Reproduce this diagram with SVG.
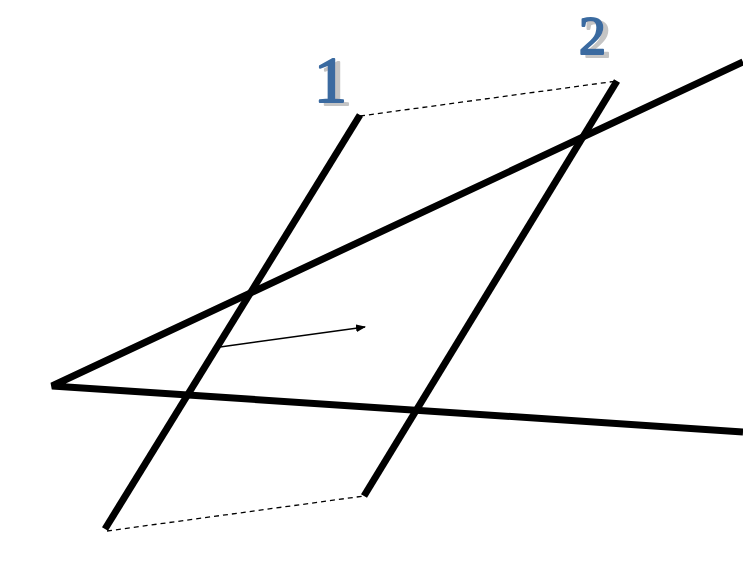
<svg xmlns="http://www.w3.org/2000/svg" width="743" height="564" viewBox="0 0 743 564">
<defs>
<style>
.thick{stroke:#000;stroke-width:7;fill:none;stroke-linecap:butt}
.dash{stroke:#000;stroke-width:1.3;fill:none;stroke-dasharray:5,4}
.lbl{font-family:"Liberation Serif","Times New Roman",serif;fill:#3a6ba0;stroke:#3a6ba0;stroke-width:2;stroke-linejoin:round;filter:url(#shadow)}
</style>
<filter id="shadow" x="-30%" y="-30%" width="160%" height="160%">
<feOffset in="SourceAlpha" dx="5" dy="3" result="off"/>
<feFlood flood-color="#c4c4c4"/>
<feComposite in2="off" operator="in" result="sh"/>
<feMerge><feMergeNode in="sh"/><feMergeNode in="SourceGraphic"/></feMerge>
</filter>
<marker id="ah" markerWidth="10" markerHeight="8" refX="9" refY="4" orient="auto" markerUnits="userSpaceOnUse">
<path d="M0,0 L10,4 L0,8 Z" fill="#000"/>
</marker>
</defs>
<rect width="743" height="564" fill="#fff"/>
<g id="connectors">
<line class="dash" x1="360" y1="116" x2="617" y2="81"/>
<line class="dash" x1="107" y1="531" x2="364" y2="496"/>
<line x1="220" y1="347" x2="365" y2="327" stroke="#000" stroke-width="1.5" marker-end="url(#ah)"/>
</g>
<g id="line1"><line class="thick" x1="360" y1="115" x2="105" y2="529"/></g>
<g id="line2"><line class="thick" x1="617" y1="81" x2="364" y2="496"/></g>
<g id="angle"><polyline class="thick" points="743,62 52,386 743,432" stroke-linejoin="miter"/></g>
<g id="label1"><text class="lbl" x="314" y="102" font-size="66">1</text></g>
<g id="label2"><text class="lbl" x="579" y="54" font-size="54">2</text></g>
</svg>
